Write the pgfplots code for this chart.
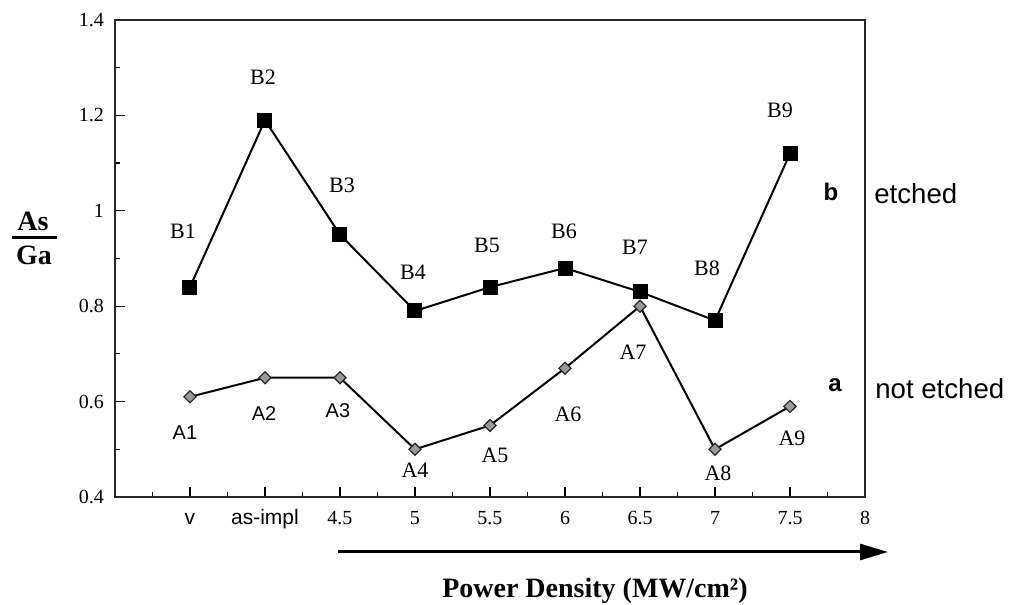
\documentclass[border=0pt]{standalone}
\usepackage{fontspec}
\setmainfont{Liberation Serif}
\setsansfont{Liberation Sans}
\usepackage{pgfplots}
\usepackage{pgfplotstable}
\pgfplotsset{compat=1.18}
\usetikzlibrary{arrows.meta}

\pgfplotstableread{
x y
1 0.84
2 1.19
3 0.95
4 0.79
5 0.84
6 0.88
7 0.83
8 0.77
9 1.12
}\etcheddata
\pgfplotstableread{
x y
1 0.61
2 0.65
3 0.65
4 0.50
5 0.55
6 0.67
7 0.80
8 0.50
9 0.59
}\notetcheddata

\begin{document}
\begin{tikzpicture}[
  lab/.style={font=\fontsize{11}{12}\selectfont},
  slab/.style={font=\sffamily\fontsize{10}{12}\selectfont},
]
\useasboundingbox (-57.5pt,-54pt) rectangle (449pt,248.5pt);
\begin{axis}[
  at={(0,0)}, anchor=south west,
  scale only axis, width=375pt, height=238.5pt,
  xmin=0, xmax=10, ymin=0.4, ymax=1.4,
  xtick={1,2,3,4,5,6,7,8,9,10},
  xticklabels={{\sffamily\fontsize{10.5}{12}\selectfont v},{\sffamily\fontsize{10.5}{12}\selectfont as-impl},4.5,5,5.5,6,6.5,7,7.5,8},
  minor xtick={0.5,1.5,2.5,3.5,4.5,5.5,6.5,7.5,8.5,9.5},
  ytick={0.4,0.6,0.8,1,1.2,1.4},
  minor ytick={0.5,0.7,0.9,1.1,1.3},
  tick pos=left,
  tick align=inside,
  major tick length=5pt, minor tick length=2.5pt,
  tick style={black, line width=0.6pt},
  axis line style={black!85, line width=0.75pt},
  clip=false,
  ticklabel style={font=\fontsize{10}{12}\selectfont},
  /pgf/number format/assume math mode=true,
  yticklabel style={xshift=-2pt},
  xticklabel style={yshift=-3pt, text height=7pt, text depth=0pt},
]
\addplot[black, line width=1pt, mark=square*, mark size=3.25pt,
  mark options={solid, fill=black}] table[x=x,y=y]{\etcheddata};
\addplot[black, line width=1pt, mark=diamond*, mark size=3pt,
  mark options={solid, fill=black!40, draw=black!85, line width=0.6pt, xscale=1.35}]
  table[x=x,y=y]{\notetcheddata};

\node[lab] at (axis cs:0.907,0.958) {B1};
\node[lab] at (axis cs:1.973,1.281) {B2};
\node[lab] at (axis cs:3.027,1.054) {B3};
\node[lab] at (axis cs:3.973,0.872) {B4};
\node[lab] at (axis cs:4.96,0.928) {B5};
\node[lab] at (axis cs:5.987,0.958) {B6};
\node[lab] at (axis cs:6.933,0.924) {B7};
\node[lab] at (axis cs:7.893,0.880) {B8};
\node[lab] at (axis cs:8.867,1.211) {B9};

\node[slab] at (axis cs:0.933,0.534) {A1};
\node[slab] at (axis cs:1.987,0.576) {A2};
\node[slab] at (axis cs:2.973,0.582) {A3};
\node[lab] at (axis cs:4.0,0.457) {A4};
\node[lab] at (axis cs:5.067,0.488) {A5};
\node[lab] at (axis cs:6.04,0.574) {A6};
\node[lab] at (axis cs:6.907,0.704) {A7};
\node[lab] at (axis cs:8.04,0.450) {A8};
\node[lab] at (axis cs:9.027,0.524) {A9};

\node[font=\sffamily\bfseries\fontsize{12}{13}\selectfont] at (axis cs:9.547,1.039) {b};
\node[font=\sffamily\fontsize{13.8}{15}\selectfont, anchor=west, inner sep=0pt] at (axis cs:10.12,1.035) {etched};
\node[font=\sffamily\bfseries\fontsize{12}{13}\selectfont] at (axis cs:9.6,0.635) {a};
\node[font=\sffamily\fontsize{13.8}{15}\selectfont, anchor=west, inner sep=0pt] at (axis cs:10.133,0.628) {not etched};

\node[font=\bfseries\fontsize{14}{16}\selectfont, inner sep=0pt] at (axis cs:-1.093,0.978) {As};
\draw[line width=1.5pt] (axis cs:-1.373,0.945) -- (axis cs:-0.773,0.945);
\node[font=\bfseries\fontsize{14}{16}\selectfont, inner sep=0pt] at (axis cs:-1.08,0.907) {Ga};

\draw[line width=1.5pt, -{Triangle[length=14pt,width=8pt]}] (axis cs:2.973,0.2847) -- (axis cs:10.307,0.2847);
\node[font=\bfseries\fontsize{14}{16}\selectfont, anchor=base, inner sep=0pt] at (axis cs:6.4,0.190) {Power Density (MW/cm²)};
\end{axis}
\end{tikzpicture}
\end{document}
